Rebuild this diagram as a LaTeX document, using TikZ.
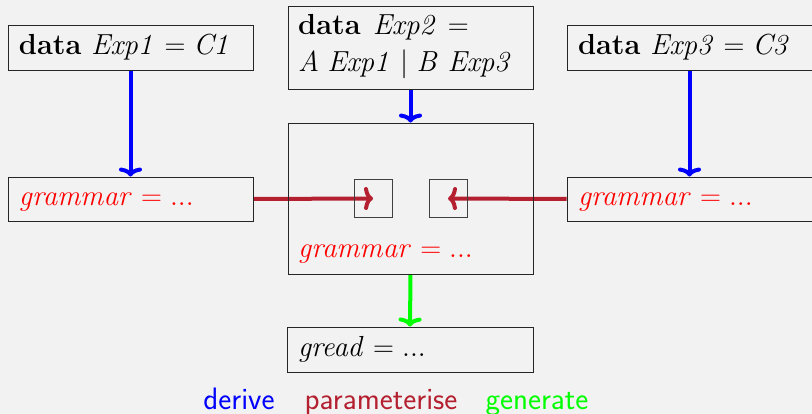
\RequirePackage{fix-cm}
\documentclass[tikz,border=0pt]{standalone}
\usetikzlibrary{arrows.meta}
\definecolor{bgcol}{HTML}{F2F2F2}
\definecolor{brick}{RGB}{180,32,48}
\definecolor{lime}{RGB}{0,255,0}
\pgfdeclarelayer{back}
\pgfsetlayers{back,main}
\begin{document}
\begin{tikzpicture}[x=1pt,y=1pt,
  font=\fontsize{29}{37}\selectfont,
  box/.style={draw=black!85, line width=0.9pt, minimum height=45pt, text width=223pt,
    align=left, inner xsep=11pt, inner ysep=0pt, anchor=center,
    text height=21pt, text depth=7pt},
  frame/.style={draw=black!85, line width=0.9pt, minimum width=245pt, inner sep=0pt},
  txt/.style={anchor=base west, inner sep=0pt},
  sq/.style={draw=black!75, line width=0.9pt, minimum size=38pt, inner sep=0pt},
  arr/.style={line width=4pt, -{To[length=9pt,width=23pt,round]}},
  lab/.style={anchor=base, font=\sffamily\fontsize{31}{35}\selectfont}
]
\useasboundingbox (0,0) rectangle (812,414);
\begin{pgfonlayer}{back}
  \fill[bgcol] (0,0) rectangle (812,414);
\end{pgfonlayer}

% top row
\node[box] (e1) at (130.5,366.5) {\textbf{data} $\mathit{Exp1} = \mathit{C1}$};
\node[frame, minimum height=83pt] (e2) at (410.5,366.5) {};
\node[txt] (e2a) at (298,379) {\textbf{data}\hspace{12pt}$\mathit{Exp2}$\hspace{10pt}$=$};
\node[txt] (e2b) at (298,342) {$\mathit{A}\;\mathit{Exp1}\mid\mathit{B}\;\mathit{Exp3}$};
\node[box] (e3) at (689.5,366.5) {\textbf{data} $\mathit{Exp3} = \mathit{C3}$};

% middle row
\node[box, minimum height=44pt] (g1) at (130.5,215) {\color{red}$\mathit{grammar} = ...$};
\node[frame, minimum height=151pt] (mid) at (410.5,215.5) {};
\node[sq] (s1) at (373,215.5) {};
\node[sq] (s2) at (448,215.5) {};
\node[txt, text=red] (g2) at (298,156) {$\mathit{grammar} = ...$};
\node[box, minimum height=44pt] (g3) at (689.5,215) {\color{red}$\mathit{grammar} = ...$};

% bottom
\node[box, text width=224pt] (gr) at (410,64.5) {$\mathit{gread} = ...$};

% legend
\node[lab, text=blue] (l1) at (239,4) {derive};
\node[lab, text=brick] (l2) at (381,4) {parameterise};
\node[lab, text=lime] (l3) at (537,4) {generate};

\begin{pgfonlayer}{back}
  \draw[arr, blue] (e1.south) -- (g1.north);
  \draw[arr, blue] (e2.south) -- (mid.north);
  \draw[arr, blue] (e3.south) -- (g3.north);
  \draw[arr, brick] (g1.east) -- (s1.center);
  \draw[arr, brick] (g3.west) -- (s2.center);
  \draw[arr, lime] (mid.south) -- (gr.north);
\end{pgfonlayer}
\end{tikzpicture}
\end{document}
